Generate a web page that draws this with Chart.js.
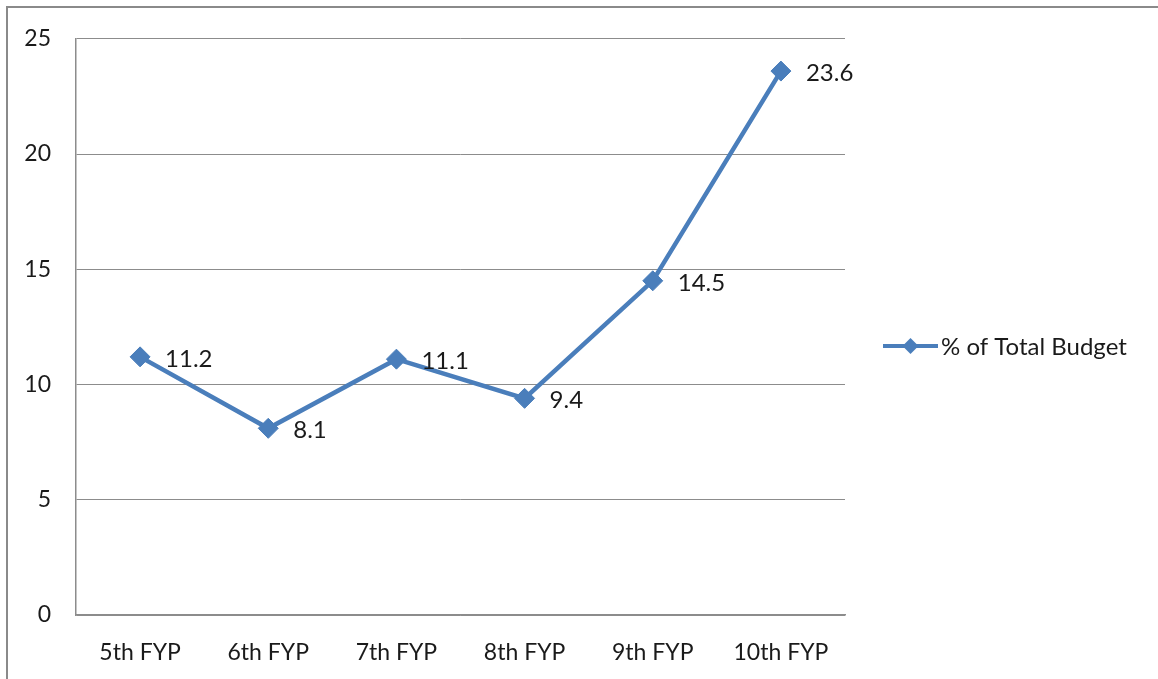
<!DOCTYPE html>
<html>
<head>
<meta charset="utf-8">
<script src="https://cdn.jsdelivr.net/npm/chart.js@4/dist/chart.umd.min.js"></script>
<style>
  html, body { margin: 0; padding: 0; background: #ffffff; }
  #wrap { position: relative; width: 1158px; height: 679px; }
</style>
</head>
<body>
<div id="wrap"><canvas id="chart" width="1158" height="679"></canvas></div>
<script>
// Share of the total budget across the Five Year Plans
const categories = ['5th FYP', '6th FYP', '7th FYP', '8th FYP', '9th FYP', '10th FYP'];
const budgetShare = [11.2, 8.1, 11.1, 9.4, 14.5, 23.6];
const yTicks = [0, 5, 10, 15, 20, 25];
const seriesName = '% of Total Budget';

const FONT = 'Lato, "Open Sans", sans-serif';
const LINE_BLUE = '#4a7ebb';
const TEXT = '#1a1a1a';

// Outer frame of the chart (top and left edges)
const framePlugin = {
  id: 'frame',
  beforeDraw(chart) {
    const ctx = chart.ctx;
    ctx.save();
    ctx.fillStyle = '#ffffff';
    ctx.fillRect(0, 0, chart.width, chart.height);
    ctx.strokeStyle = '#8a8a8a';
    ctx.lineWidth = 2;
    ctx.beginPath();
    ctx.moveTo(7, chart.height);
    ctx.lineTo(7, 7);
    ctx.lineTo(chart.width, 7);
    ctx.stroke();
    ctx.restore();
  }
};

// Value labels to the right of each point
const valueLabels = {
  id: 'valueLabels',
  afterDatasetsDraw(chart) {
    const ctx = chart.ctx;
    const meta = chart.getDatasetMeta(0);
    const data = chart.data.datasets[0].data;
    ctx.save();
    ctx.font = '24px ' + FONT;
    ctx.fillStyle = TEXT;
    ctx.textAlign = 'left';
    ctx.textBaseline = 'middle';
    meta.data.forEach((pt, i) => {
      ctx.fillText(String(data[i]), pt.x + 25, pt.y + 2);
    });
    ctx.restore();
  }
};

// Legend entry: line with a diamond marker and the series name
const sideLegend = {
  id: 'sideLegend',
  afterDraw(chart) {
    const ctx = chart.ctx;
    const ds = chart.data.datasets[0];
    const y = 346;
    const x0 = 883, x1 = 938;
    ctx.save();
    ctx.strokeStyle = ds.borderColor;
    ctx.lineWidth = 4;
    ctx.beginPath();
    ctx.moveTo(x0, y);
    ctx.lineTo(x1, y);
    ctx.stroke();
    ctx.fillStyle = ds.pointBackgroundColor;
    const r = 8, cx = (x0 + x1) / 2;
    ctx.beginPath();
    ctx.moveTo(cx - r, y);
    ctx.lineTo(cx, y - r);
    ctx.lineTo(cx + r, y);
    ctx.lineTo(cx, y + r);
    ctx.closePath();
    ctx.fill();
    ctx.font = '24px ' + FONT;
    ctx.fillStyle = TEXT;
    ctx.textAlign = 'left';
    ctx.textBaseline = 'middle';
    ctx.fillText(ds.label, 941, y + 1);
    ctx.restore();
  }
};

new Chart(document.getElementById('chart'), {
  type: 'line',
  data: {
    labels: categories,
    datasets: [{
      label: seriesName,
      data: budgetShare,
      borderColor: LINE_BLUE,
      borderWidth: 4.5,
      pointStyle: 'rectRot',
      pointRadius: 10,
      pointHoverRadius: 10,
      pointBackgroundColor: LINE_BLUE,
      pointBorderColor: LINE_BLUE,
      pointBorderWidth: 1,
      tension: 0,
      fill: false
    }]
  },
  options: {
    responsive: false,
    animation: false,
    events: [],
    layout: { padding: { left: 0, top: 37, right: 313, bottom: 0 } },
    plugins: {
      legend: { display: false },
      tooltip: { enabled: false }
    },
    scales: {
      x: {
        offset: true,
        grid: { display: false, drawTicks: false },
        border: { display: true, color: '#8c8c8c', width: 1.5 },
        ticks: {
          color: TEXT,
          font: { family: FONT, size: 23 },
          padding: 24,
          maxRotation: 0
        },
        afterFit(scale) { scale.height = 64; }
      },
      y: {
        min: 0,
        max: 25,
        afterBuildTicks(scale) { scale.ticks = yTicks.map(v => ({ value: v })); },
        grid: { color: '#8c8c8c', lineWidth: 1, drawTicks: false },
        border: { display: true, color: '#8c8c8c', width: 1.5 },
        ticks: {
          color: TEXT,
          font: { family: FONT, size: 23 },
          padding: 25
        },
        afterFit(scale) { scale.width = 76; }
      }
    }
  },
  plugins: [framePlugin, valueLabels, sideLegend]
});
</script>
</body>
</html>
